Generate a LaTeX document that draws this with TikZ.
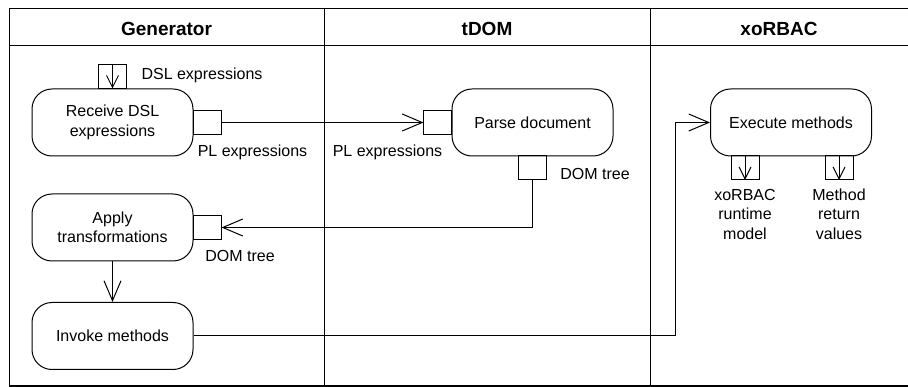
\documentclass[tikz,border=0pt]{standalone}
\usepackage{fontspec}
\setmainfont{Liberation Sans}
\usetikzlibrary{arrows.meta}
\tikzset{
  action/.style={draw, line width=1pt, rounded corners=20pt, minimum width=161pt,
    minimum height=67pt, align=center, inner sep=0pt},
  pinbox/.style={draw, line width=1pt, minimum width=28pt, minimum height=24pt,
    inner sep=0pt, outer sep=0pt},
  lane/.style={font=\fontsize{19}{22}\selectfont\bfseries},
  flow/.style={line width=1pt, -{Straight Barb[length=20pt,width=17pt]}},
  pinflow/.style={line width=1pt, -{Straight Barb[length=12pt,width=12pt]}}
}
\begin{document}
\begin{tikzpicture}[x=1pt, y=-1pt, font=\fontsize{16}{19.5}\selectfont]
      \useasboundingbox (0,0) rectangle (908,387);
      \draw[line width=1pt] (9,9) rectangle (908.5,386);
      \draw[line width=1pt] (9,46) -- (908,46);
      \draw[line width=1pt] (324,9) -- (324,386);
      \draw[line width=1pt] (650,9) -- (650,386);
      \draw
        (166.5,29) node[lane] (genlane){Generator}
        (487,29) node[lane] (tdomlane){tDOM}
        (779,29) node[lane] (rbaclane){xoRBAC};
      \draw
        (112.5,122.5) node[action] (recv){Receive DSL\\expressions}
        (532.5,122.5) node[action] (parse){Parse document}
        (112.5,227.5) node[action] (apply){Apply\\transformations}
        (112.5,336) node[action] (invoke){Invoke methods}
        (791,122.5) node[action] (exec){Execute methods};
      \draw
        (recv.north) node[pinbox, anchor=south] (dslin){}
        (recv.east) node[pinbox, anchor=west] (plout){}
        (parse.west) node[pinbox, anchor=east] (plin){}
        (532,156) node[pinbox, anchor=north] (domout){}
        (apply.east) node[pinbox, anchor=west] (domin){}
        (745,156) node[pinbox, anchor=north] (rtm){}
        (839,156) node[pinbox, anchor=north] (ret){};
      \draw
        (138,75) node[anchor=west] (dsltext){DSL expressions}
        (252.5,152) node (plouttext){PL expressions}
        (387.5,152) node (plintext){PL expressions}
        (595,174) node (domouttext){DOM tree}
        (240,256) node (domintext){DOM tree}
        (745,214) node[align=center] (rtmtext){xoRBAC\\runtime\\model}
        (839,214) node[align=center] (rettext){Method\\return\\values};
      \coordinate (turn) at (675,122.5);
      \begin{scope}[flow]
        \draw (plout) to (plin);
        \draw (domout.south) |- (domin.east);
        \draw (apply) to (invoke);
        \draw (invoke.east) -| (turn) -- (exec.west);
      \end{scope}
      \foreach \p in {dslin,rtm,ret}
        \draw[pinflow] (\p.north) -- (\p.south);
    \end{tikzpicture}
\end{document}
